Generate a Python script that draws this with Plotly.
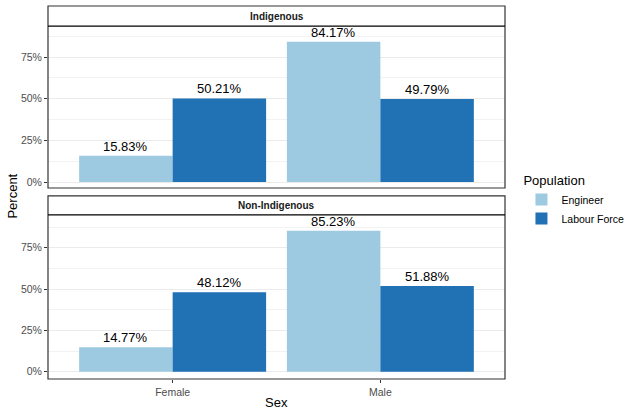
import plotly.graph_objects as go
from plotly.subplots import make_subplots

# data
sexes = ["Female", "Male"]
groups = ["Indigenous", "Non-Indigenous"]
engineer = {"Indigenous": [0.1583, 0.8417], "Non-Indigenous": [0.1477, 0.8523]}
labour_force = {"Indigenous": [0.5021, 0.4979], "Non-Indigenous": [0.4812, 0.5188]}
series_names = ["Engineer", "Labour Force"]
series_colors = ["#9ECAE1", "#2171B5"]
y_ticks = [0, 0.25, 0.5, 0.75]
y_tick_labels = ["0%", "25%", "50%", "75%"]

font_family = "Liberation Sans, Arial, sans-serif"
bargap = 0.1
bar_w = (1 - bargap) / len(series_names)

fig = make_subplots(rows=2, cols=1, shared_xaxes=True, vertical_spacing=0.0)

annotations = []
for row, grp in enumerate(groups, start=1):
    for k, (name, color, vals) in enumerate(zip(series_names, series_colors,
                                                [engineer[grp], labour_force[grp]])):
        fig.add_trace(go.Bar(
            x=sexes, y=vals, name=name,
            marker=dict(color=color, line=dict(width=0)),
            showlegend=(row == 1),
            legendgroup=name,
        ), row=row, col=1)
        # value labels sitting right on top of each bar (like geom_text vjust)
        offset = (k - (len(series_names) - 1) / 2) * bar_w
        for i, v in enumerate(vals):
            annotations.append(dict(
                text=f"{v * 100:.2f}%", x=i + offset, y=v,
                xref="x" if row == 1 else "x2", yref="y" if row == 1 else "y2",
                showarrow=False, xanchor="center", yanchor="bottom", yshift=0,
                font=dict(size=13, color="black", family=font_family)))

# panel geometry (paper coords)
top_dom = [0.512, 0.946]
bot_dom = [0.0, 0.440]
strips = [(0.946, 1.0), (0.440, 0.491)]

fig.update_yaxes(tickvals=y_ticks, ticktext=y_tick_labels,
                 ticks="outside", ticklen=3, tickcolor="#333333",
                 tickfont=dict(size=10.5, color="#4D4D4D", family=font_family),
                 showgrid=True, gridcolor="#EBEBEB", gridwidth=1,
                 zeroline=False, showline=False,
                 minor=dict(tickvals=[0.125, 0.375, 0.625, 0.875],
                            showgrid=True, gridcolor="#F2F2F2", gridwidth=0.5,
                            ticks=""))
fig.update_xaxes(range=[-0.6, 1.6], showgrid=False, zeroline=False,
                 ticks="outside", ticklen=3, tickcolor="#333333",
                 tickfont=dict(size=10.5, color="#4D4D4D", family=font_family))
fig.update_xaxes(ticks="", showticklabels=False, row=1, col=1)
fig.update_layout(yaxis=dict(domain=top_dom, range=[-0.036, 0.936]),
                  yaxis2=dict(domain=bot_dom, range=[-0.044, 0.949]))

shapes = []
for (s0, s1), dom, grp in zip(strips, [top_dom, bot_dom], groups):
    # outer box of panel + strip
    shapes.append(dict(type="rect", xref="paper", yref="paper",
                       x0=0, x1=1, y0=dom[0], y1=s1,
                       line=dict(color="#333333", width=1.2)))
    shapes.append(dict(type="line", xref="paper", yref="paper",
                       x0=0, x1=1, y0=s0, y1=s0,
                       line=dict(color="black", width=1.2)))
    annotations.append(dict(text=f"<b>{grp}</b>", xref="paper", yref="paper",
                            x=0.5, y=(s0 + s1) / 2, showarrow=False,
                            xanchor="center", yanchor="middle",
                            font=dict(size=10, color="#1A1A1A", family=font_family)))

annotations.append(dict(text="Percent", xref="paper", yref="paper",
                        x=-0.078, y=0.49, textangle=-90, showarrow=False,
                        xanchor="center", yanchor="middle",
                        font=dict(size=13, color="black", family=font_family)))
annotations.append(dict(text="Sex", xref="paper", yref="paper",
                        x=0.5, y=-0.062, showarrow=False,
                        xanchor="center", yanchor="middle",
                        font=dict(size=13, color="black", family=font_family)))

fig.update_layout(
    width=624, height=416,
    margin=dict(l=48, r=119, t=6, b=37, autoexpand=False),
    paper_bgcolor="white", plot_bgcolor="white",
    barmode="group", bargap=bargap, bargroupgap=0.0,
    shapes=shapes, annotations=annotations,
    legend=dict(title=dict(text="Population",
                           font=dict(size=13, color="black", family=font_family)),
                font=dict(size=10.5, color="black", family=font_family),
                x=1.036, xanchor="left", y=0.478, yanchor="middle",
                tracegroupgap=0, itemwidth=30),
    font=dict(family=font_family),
)

fig.write_html("out.html", config={"displayModeBar": False},
               post_script="document.body.style.margin='0';")
